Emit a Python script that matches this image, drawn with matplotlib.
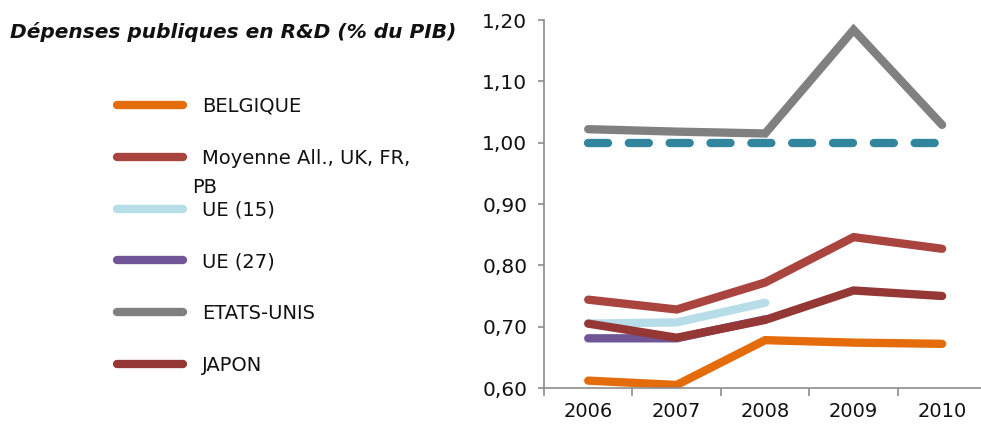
import matplotlib
matplotlib.use('Agg')
import matplotlib.pyplot as plt
from matplotlib.ticker import FixedLocator, FuncFormatter

plt.rcParams['font.family'] = ['DejaVu Sans']

years = ['2006', '2007', '2008', '2009', '2010']
belgique = [0.612, 0.605, 0.678, 0.674, 0.672]
moyenne = [0.744, 0.728, 0.772, 0.846, 0.827]
ue15 = [0.705, 0.707, 0.739]
ue27 = [0.681, 0.681, 0.712]
etats_unis = [1.022, 1.018, 1.015, 1.184, 1.029]
japon = [0.705, 0.682, 0.711, 0.759, 0.750]
objectif = [1.00, 1.00, 1.00, 1.00, 1.00]

series = [
    ('BELGIQUE', belgique, '#E46C0A'),
    ('Moyenne All., UK, FR,', moyenne, '#A9443F'),
    ('UE (15)', ue15, '#B7DEE8'),
    ('UE (27)', ue27, '#6F5595'),
    ('ETATS-UNIS', etats_unis, '#808080'),
    ('JAPON', japon, '#953735'),
]

fig = plt.figure(figsize=(9.81, 4.28), dpi=100)
ax = fig.add_axes([544 / 981, 1 - 388 / 428, 1 - 544 / 981, (388 - 20) / 428])

lw = 6
x = list(range(len(years)))
ax.plot(x, objectif, color='#31859C', lw=lw, linestyle=(0, (2.4, 2.5)),
        dash_capstyle='round')
handles = []
for name, vals, col in series:
    h, = ax.plot(x[:len(vals)], vals, color=col, lw=lw, solid_capstyle='round',
                 solid_joinstyle='miter', label=name)
    handles.append(h)

ax.set_ylim(0.60, 1.20)
ax.set_xlim(-0.5, 4.44)
ax.set_yticks([0.6, 0.7, 0.8, 0.9, 1.0, 1.1, 1.2])
ax.yaxis.set_major_formatter(FuncFormatter(lambda v, p: f'{v:.2f}'.replace('.', ',')))
ax.set_xticks(x)
ax.set_xticklabels(years)
ax.xaxis.set_minor_locator(FixedLocator([-0.5, 0.5, 1.5, 2.5, 3.5]))

axis_col = '#8C8C8C'
for side in ['top', 'right']:
    ax.spines[side].set_visible(False)
for side in ['left', 'bottom']:
    ax.spines[side].set_color(axis_col)
    ax.spines[side].set_linewidth(1.2)
ax.tick_params(axis='x', which='major', length=0, pad=10, labelsize=14, labelcolor='#111111')
ax.tick_params(axis='x', which='minor', length=6, width=1.2, color=axis_col)
ax.tick_params(axis='y', length=4, width=1.2, color=axis_col, pad=8, labelsize=14.5,
               labelcolor='#111111')

fig.text(10 / 981, 1 - 32 / 428, 'Dépenses publiques en R&D (% du PIB)', fontsize=14.5,
         fontweight='bold', fontstyle='italic', va='center', ha='left', color='#111111')

fig.legend(handles=handles, loc='upper left', bbox_to_anchor=(109 / 981, 1 - 89 / 428),
           frameon=False, fontsize=14, handlelength=3.4, handletextpad=1.0,
           labelspacing=1.685, borderaxespad=0, labelcolor='#111111')
fig.text(192 / 981, 1 - 188 / 428, 'PB', fontsize=14, va='center', ha='left', color='#111111')

fig.savefig('out.png', dpi=100)
